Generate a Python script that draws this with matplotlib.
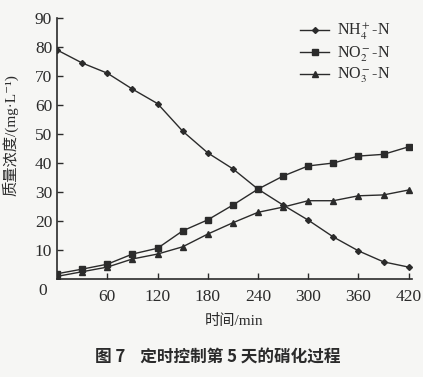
import numpy as np
import matplotlib
matplotlib.use('Agg')
import matplotlib.pyplot as plt

plt.rcParams['font.family'] = ['Liberation Serif', 'Noto Sans CJK SC', 'DejaVu Serif']
plt.rcParams['mathtext.fontset'] = 'stix'

# data
t = [0, 30, 60, 90, 120, 150, 180, 210, 240, 270, 300, 330, 360, 390, 420]
nh4 = [79, 74.5, 71, 65.5, 60.5, 51, 43.5, 38, 31, 25.5, 20.3, 14.5, 9.7, 5.9, 4.1]
no2 = [1.8, 3.4, 5.1, 8.6, 10.6, 16.6, 20.4, 25.5, 31, 35.5, 39, 40, 42.4, 43, 45.6]
no3 = [0.9, 2.5, 4.1, 6.9, 8.6, 11.1, 15.5, 19.4, 23, 24.8, 27, 27, 28.7, 29, 30.7]
xticks = [60, 120, 180, 240, 300, 360, 420]
yticks = [10, 20, 30, 40, 50, 60, 70, 80, 90]

bg = '#f6f6f4'
ink = '#2b2b2b'

fig = plt.figure(figsize=(4.23, 3.77), dpi=100, facecolor=bg)
ax = fig.add_axes([0.135, 0.26, 0.839, 0.692])
ax.set_facecolor(bg)

ax.plot(t, nh4, color=ink, lw=1.0, marker='D', ms=3, label=r'NH$_4^+$-N')
ax.plot(t, no2, color=ink, lw=1.0, marker='s', ms=4, label=r'NO$_2^-$-N')
ax.plot(t, no3, color=ink, lw=1.0, marker='^', ms=4, label=r'NO$_3^-$-N')

ax.set_xlim(0, 424)
ax.set_ylim(0, 90)
ax.set_xticks(xticks)
ax.set_yticks(yticks)
ax.tick_params(direction='in', length=4, width=1, colors=ink, labelsize=12.5)
ax.tick_params(axis='x', pad=7)
for s in ['top', 'right']:
    ax.spines[s].set_visible(False)
for s in ['left', 'bottom']:
    ax.spines[s].set_linewidth(1.2)
    ax.spines[s].set_color(ink)
ax.text(-0.04, -0.015, '0', transform=ax.transAxes, ha='center', va='top',
        fontsize=12.5, color=ink)

ax.set_xlabel('时间/min', fontsize=11, color=ink, labelpad=7)
ax.set_ylabel('质量浓度/(mg·L⁻¹)', fontsize=11, color=ink)
ax.yaxis.set_label_coords(-0.11, 0.55)

leg = ax.legend(loc='upper right', bbox_to_anchor=(0.98, 1.04), frameon=False,
                fontsize=11.5, handlelength=1.8, handletextpad=0.5,
                labelspacing=0.15, labelcolor=ink)

fig.text(0.515, 0.055, '图 7    定时控制第 5 天的硝化过程', ha='center', va='center',
         fontsize=12, fontweight='bold', color=ink,
         family=['Noto Sans CJK SC'])

fig.savefig('out.png', dpi=100, facecolor=bg)
